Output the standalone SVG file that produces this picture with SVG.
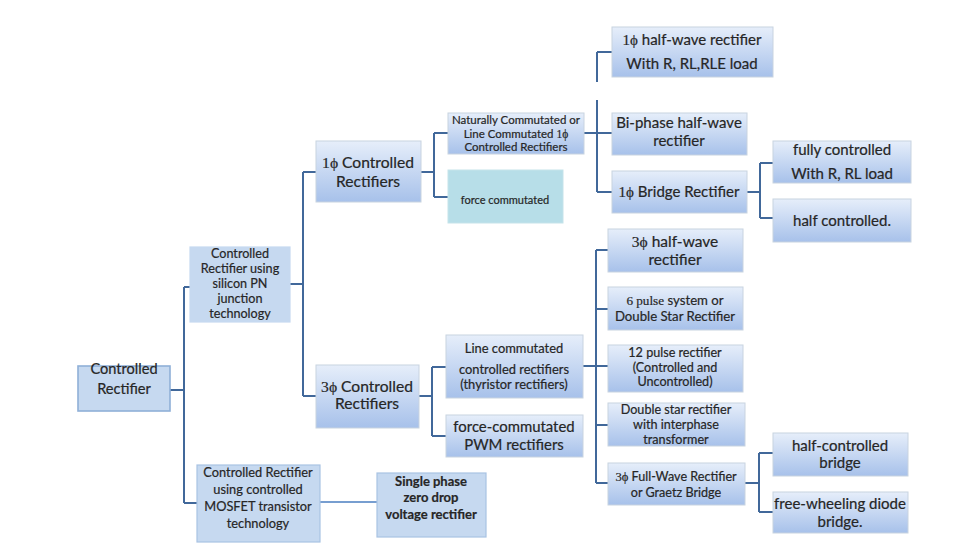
<svg xmlns="http://www.w3.org/2000/svg" width="968" height="560" viewBox="0 0 968 560">
<defs>
<linearGradient id="g" x1="0" y1="0" x2="0" y2="1">
<stop offset="0" stop-color="#e6eefa"/>
<stop offset="1" stop-color="#a7c1ea"/>
</linearGradient>
<style>
.b{fill:url(#g);stroke:#c8d3e0;stroke-width:1}
.f{fill:#c6d9f0;stroke:#a9c3e3;stroke-width:1.2}
.t{fill:#b7dee8;stroke:#c5e3ea;stroke-width:1}
text{font-family:Lato,"Open Sans","Liberation Sans",sans-serif;fill:#262626;stroke:#262626;stroke-width:0.2;text-anchor:middle}
.s{font-family:"Liberation Serif","DejaVu Serif",serif}
.c path{fill:none;stroke:#41689a;stroke-width:2}
</style>
</defs>
<rect width="968" height="560" fill="#ffffff"/>
<g class="c" id="connectors">
<path d="M170 390H184M184 287V503M184 287H190M184 503H197"/>
<path d="M290 284H303M303 172V396M303 172H316M303 396H316"/>
<path d="M421 172H434M434 133V197M434 133H448M434 197H448"/>
<path d="M584 133H612M597 52V82M597 100V192M597 52H612M597 192H612"/>
<path d="M747 192H760M760 163V218M760 163H773M760 218H773"/>
<path d="M419 396H432M432 367V436M432 367H446M432 436H446"/>
<path d="M583 366H608M596 250V483M596 250H608M596 309H608M596 425H608M596 483H608"/>
<path d="M745 483H759M759 453V512M759 453H773M759 512H773"/>
<path d="M320 502H377" style="stroke:#4a7ec0;stroke-width:1.6"/>
</g>
<g id="root"><rect class="f" x="78" y="366" width="92" height="45" style="stroke:#8fb0d8;stroke-width:1.6"/>
<text font-size="14.6" x="124" y="374">Controlled</text><text font-size="14.6" x="124" y="394">Rectifier</text></g>
<g id="silicon"><rect class="f" x="190" y="247" width="100" height="75" style="stroke:#c6d9f0"/>
<text font-size="12.6" x="240" y="258">Controlled</text><text font-size="12.6" x="240" y="273">Rectifier using</text><text font-size="12.6" x="240" y="288">silicon PN</text><text font-size="12.6" x="240" y="303">junction</text><text font-size="12.6" x="240" y="318">technology</text></g>
<g id="ph1"><rect class="b" x="316" y="141" width="105" height="61"/>
<text font-size="15.6" x="368" y="168"><tspan class="s">1ϕ</tspan>  Controlled</text><text font-size="15.6" x="368" y="187">Rectifiers</text></g>
<g id="natural"><rect class="b" x="448" y="113" width="136" height="41"/>
<text font-size="11.5" x="516" y="124">Naturally Commutated or</text><text font-size="11.5" x="516" y="137.5">Line Commutated <tspan class="s">1ϕ</tspan></text><text font-size="11.5" x="516" y="151">Controlled Rectifiers</text></g>
<g id="force1"><rect class="t" x="448" y="170" width="115" height="53"/>
<text font-size="11" x="505" y="204">force commutated</text></g>
<g id="halfwave1"><rect class="b" x="612" y="27" width="161" height="50"/>
<text font-size="15" x="692" y="45"><tspan class="s">1ϕ</tspan>  half-wave rectifier</text><text font-size="15" x="692" y="69">With R, RL,RLE load</text></g>
<g id="biphase"><rect class="b" x="612" y="113" width="135" height="42"/>
<text font-size="15" x="679" y="128">Bi-phase half-wave</text><text font-size="15" x="679" y="146">rectifier</text></g>
<g id="bridge1"><rect class="b" x="612" y="171" width="135" height="42"/>
<text font-size="15" x="679" y="197"><tspan class="s">1ϕ</tspan> Bridge Rectifier</text></g>
<g id="fully"><rect class="b" x="773" y="141" width="138" height="42"/>
<text font-size="15" x="842" y="155">fully controlled</text><text font-size="15" x="842" y="179">With R, RL load</text></g>
<g id="halfc"><rect class="b" x="773" y="199" width="138" height="43"/>
<text font-size="15" x="842" y="226">half controlled.</text></g>
<g id="ph3"><rect class="b" x="316" y="365" width="103" height="63"/>
<text font-size="15.6" x="367" y="392"><tspan class="s">3ϕ</tspan>  Controlled</text><text font-size="15.6" x="367" y="409">Rectifiers</text></g>
<g id="linecomm"><rect class="b" x="446" y="335" width="137" height="63"/>
<text font-size="12.9" x="514" y="352.5">Line commutated</text><text font-size="12.9" x="514" y="373.5">controlled rectifiers</text><text font-size="12.9" x="514" y="388.5">(thyristor rectifiers)</text></g>
<g id="pwm"><rect class="b" x="446" y="415" width="137" height="42"/>
<text font-size="14.9" x="514" y="432">force-commutated</text><text font-size="14.9" x="514" y="450">PWM rectifiers</text></g>
<g id="halfwave3"><rect class="b" x="608" y="229" width="135" height="43"/>
<text font-size="15.5" x="675" y="246.5"><tspan class="s">3ϕ</tspan>  half-wave</text><text font-size="15.5" x="675" y="264.5">rectifier</text></g>
<g id="pulse6"><rect class="b" x="608" y="287" width="135" height="43"/>
<text font-size="13.2" x="675" y="304.5"><tspan class="s">6 pulse</tspan>  system or</text><text font-size="13.2" x="675" y="320.5">Double Star Rectifier</text></g>
<g id="pulse12"><rect class="b" x="608" y="345" width="135" height="47"/>
<text font-size="12.6" x="675" y="357">12 pulse rectifier</text><text font-size="12.6" x="675" y="372">(Controlled and</text><text font-size="12.6" x="675" y="386">Uncontrolled)</text></g>
<g id="doublestar"><rect class="b" x="608" y="403" width="137" height="43"/>
<text font-size="12.6" x="676" y="413.5">Double star rectifier</text><text font-size="12.6" x="676" y="428.5">with interphase</text><text font-size="12.6" x="676" y="444">transformer</text></g>
<g id="fullwave3"><rect class="b" x="608" y="463" width="137" height="42"/>
<text font-size="12.6" x="676" y="480.5"><tspan class="s">3ϕ</tspan> Full-Wave Rectifier</text><text font-size="12.6" x="676" y="496.5">or Graetz Bridge</text></g>
<g id="halfbridge"><rect class="b" x="773" y="433" width="135" height="43"/>
<text font-size="15" x="840" y="451">half-controlled</text><text font-size="15" x="840" y="468">bridge</text></g>
<g id="freewheel"><rect class="b" x="773" y="492" width="135" height="41"/>
<text font-size="15" x="840" y="509">free-wheeling diode</text><text font-size="15" x="840" y="527">bridge.</text></g>
<g id="mosfet"><rect class="f" x="197" y="465" width="123" height="77"/>
<text font-size="12.8" x="258" y="476.5">Controlled Rectifier</text><text font-size="12.8" x="258" y="493.5">using controlled</text><text font-size="12.8" x="258" y="510.5">MOSFET transistor</text><text font-size="12.8" x="258" y="527.5">technology</text></g>
<g id="zerodrop"><rect class="f" x="377" y="473" width="109" height="64"/>
<text font-size="13" font-weight="bold" x="431" y="485.5">Single phase</text><text font-size="13" font-weight="bold" x="431" y="501.5">zero drop</text><text font-size="13" font-weight="bold" x="431" y="518.5">voltage rectifier</text></g>
</svg>
